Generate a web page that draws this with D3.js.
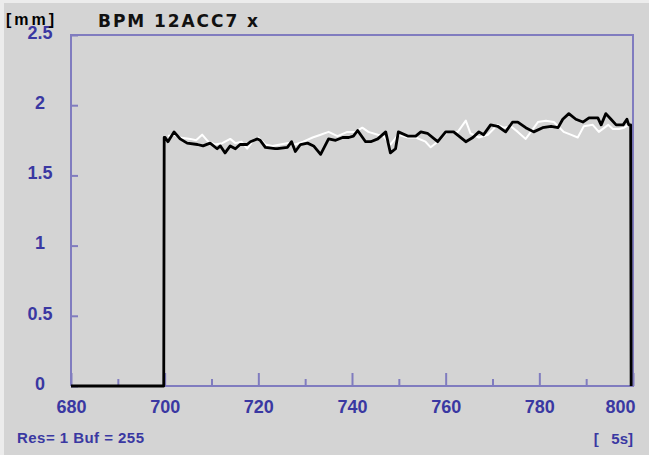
<!DOCTYPE html>
<html>
<head>
<meta charset="utf-8">
<script src="https://cdn.jsdelivr.net/npm/d3@7"></script>
<style>
  html, body { margin: 0; padding: 0; background: #d4d4d4; }
  svg { display: block; }
</style>
</head>
<body>
<script>
// time axis [s] and position [mm]
const tBlack = [680, 699.8, 699.9, 700.1, 700.7, 702.0, 703.3, 704.8, 707.0, 708.2, 709.7, 711.2, 711.9, 712.9, 714.0, 715.1, 716.1, 717.6, 718.3, 719.8, 720.4, 721.5, 723.6, 724.1, 726.2, 727.1, 727.9, 729.0, 730.5, 731.8, 733.3, 735.0, 736.5, 738.0, 739.3, 740.3, 741.2, 742.9, 744.0, 745.5, 747.2, 748.2, 749.3, 749.9, 751.9, 753.6, 754.7, 756.1, 758.3, 760.0, 761.7, 764.3, 765.8, 767.1, 768.1, 769.6, 771.1, 772.8, 774.3, 775.4, 777.1, 778.8, 780.7, 782.5, 784.0, 785.0, 786.3, 787.8, 789.3, 790.6, 792.5, 793.2, 794.2, 795.3, 796.4, 797.9, 798.7, 799.1, 799.5, 799.6];
const vBlack = [0, 0, 1.77, 1.77, 1.74, 1.81, 1.76, 1.73, 1.72, 1.71, 1.73, 1.69, 1.71, 1.66, 1.71, 1.69, 1.72, 1.72, 1.74, 1.76, 1.75, 1.70, 1.69, 1.69, 1.70, 1.74, 1.67, 1.72, 1.73, 1.71, 1.65, 1.76, 1.75, 1.77, 1.77, 1.78, 1.82, 1.74, 1.74, 1.76, 1.81, 1.66, 1.69, 1.81, 1.78, 1.78, 1.81, 1.80, 1.74, 1.81, 1.81, 1.74, 1.77, 1.81, 1.79, 1.86, 1.85, 1.81, 1.88, 1.88, 1.84, 1.81, 1.84, 1.85, 1.84, 1.90, 1.94, 1.90, 1.88, 1.91, 1.91, 1.86, 1.94, 1.90, 1.86, 1.86, 1.90, 1.86, 1.86, 0];

const tWhite = [700.7, 702.0, 703.3, 705.5, 706.7, 708.0, 709.3, 710.8, 712.3, 714.0, 715.1, 716.4, 717.6, 718.7, 720.0, 721.5, 723.0, 724.7, 726.4, 727.9, 729.6, 731.6, 733.3, 735.0, 736.9, 739.0, 740.7, 742.2, 743.5, 745.5, 746.7, 748.2, 749.9, 751.9, 753.6, 755.7, 756.8, 758.3, 760.4, 762.6, 764.3, 765.3, 767.1, 769.0, 771.1, 772.4, 773.9, 775.4, 777.1, 779.7, 781.4, 783.1, 785.2, 786.7, 788.2, 789.5, 791.4, 792.7, 794.7, 795.7, 797.0, 798.1, 799.1];
const vWhite = [1.78, 1.79, 1.77, 1.76, 1.75, 1.79, 1.74, 1.72, 1.73, 1.76, 1.73, 1.74, 1.69, 1.74, 1.77, 1.72, 1.71, 1.72, 1.73, 1.72, 1.74, 1.77, 1.79, 1.81, 1.78, 1.81, 1.81, 1.84, 1.81, 1.79, 1.78, 1.72, 1.79, 1.77, 1.77, 1.74, 1.70, 1.74, 1.81, 1.81, 1.89, 1.80, 1.77, 1.79, 1.86, 1.84, 1.85, 1.81, 1.76, 1.88, 1.89, 1.88, 1.81, 1.79, 1.77, 1.85, 1.86, 1.81, 1.86, 1.83, 1.83, 1.84, 1.86];

const xMajor = [680, 700, 720, 740, 760, 780, 800];
const xMinor = [690, 710, 730, 750, 770, 790];
const yTicks = [0, 0.5, 1, 1.5, 2, 2.5];

const width = 649, height = 455;
const plotL = 71, plotR = 633, plotT = 35, plotB = 386;
const axisCol = "#807cbf", textCol = "#3a38a2";

const svg = d3.select("body").append("svg").attr("width", width).attr("height", height);

svg.append("rect").attr("width", width).attr("height", height).attr("fill", "#ececec");
svg.append("rect").attr("x", 4).attr("y", 3).attr("width", width - 4).attr("height", height - 3).attr("fill", "#d4d4d4");

let xScale = d3.scaleLinear().domain([680, 800]).range([plotL, plotR]);
let yScale = d3.scaleLinear().domain([0, 2.5]).range([plotB, plotT]);

// frame
svg.append("path")
	.attr("d", `M${plotL},${plotB}V${plotT}H${plotR}V${plotB}H${plotL}`)
	.attr("fill", "none").attr("stroke", axisCol).attr("stroke-width", 2);

// x axis, ticks point up into the plot
let xAxis = d3.axisBottom(xScale).tickValues(xMajor).tickSizeInner(-13).tickSizeOuter(0).tickPadding(14);
let gx = svg.append("g").attr("transform", `translate(0,${plotB})`).call(xAxis);
gx.select(".domain").remove();
gx.selectAll(".tick line").attr("stroke", axisCol).attr("stroke-width", 2);
gx.selectAll(".tick text")
	.attr("fill", textCol).attr("font-family", "Liberation Sans, Arial, sans-serif")
	.attr("font-size", 18).attr("font-weight", "bold")
	.attr("text-anchor", (d) => d === 800 ? "end" : "middle")
	.attr("dx", (d) => d === 800 ? 2 : 0);

let gxm = svg.append("g").attr("transform", `translate(0,${plotB})`)
	.call(d3.axisBottom(xScale).tickValues(xMinor).tickSizeInner(-7).tickSizeOuter(0).tickFormat(""));
gxm.select(".domain").remove();
gxm.selectAll(".tick line").attr("stroke", axisCol).attr("stroke-width", 2);

// y axis, ticks point right
let yAxis = d3.axisLeft(yScale).tickValues(yTicks).tickSizeInner(-7).tickSizeOuter(0).tickFormat((d) => String(d));
let gy = svg.append("g").attr("transform", `translate(${plotL},0)`).call(yAxis);
gy.select(".domain").remove();
gy.selectAll(".tick line").attr("stroke", axisCol).attr("stroke-width", 2);
gy.selectAll(".tick text")
	.attr("fill", textCol).attr("font-family", "Liberation Sans, Arial, sans-serif")
	.attr("font-size", 18).attr("font-weight", "bold")
	.attr("text-anchor", "middle").attr("x", -31).attr("dy", "0.18em");

// traces
let line = d3.line().x((d) => xScale(d[0])).y((d) => yScale(d[1]));

svg.append("path")
	.datum(d3.zip(tWhite, vWhite))
	.attr("d", line)
	.attr("fill", "none").attr("stroke", "#ffffff").attr("stroke-width", 2).attr("stroke-linejoin", "round");

svg.append("path")
	.datum(d3.zip(tBlack, vBlack))
	.attr("d", line)
	.attr("fill", "none").attr("stroke", "#000000").attr("stroke-width", 2.8).attr("stroke-linejoin", "round");

// texts
svg.append("text").attr("x", 6).attr("y", 25)
	.attr("font-family", "Liberation Sans, Arial, sans-serif").attr("font-size", 16).attr("font-weight", "bold")
	.attr("textLength", 48).attr("lengthAdjust", "spacing")
	.attr("fill", "#000").text("[mm]");

svg.append("text").attr("x", 98).attr("y", 27)
	.attr("font-family", "DejaVu Sans, sans-serif").attr("font-size", 17).attr("font-weight", "bold")
	.attr("textLength", 160).attr("lengthAdjust", "spacing")
	.attr("fill", "#111").text("BPM 12ACC7 x");

svg.append("text").attr("x", 17).attr("y", 443)
	.attr("font-family", "Liberation Sans, Arial, sans-serif").attr("font-size", 15).attr("font-weight", "bold")
	.attr("textLength", 127).attr("lengthAdjust", "spacing")
	.attr("fill", textCol).text("Res= 1 Buf = 255");

svg.append("text").attr("x", 633).attr("y", 444).attr("text-anchor", "end")
	.attr("font-family", "Liberation Sans, Arial, sans-serif").attr("font-size", 15).attr("font-weight", "bold")
	.attr("fill", textCol).attr("xml:space", "preserve").text("[   5s]");
</script>
</body>
</html>
